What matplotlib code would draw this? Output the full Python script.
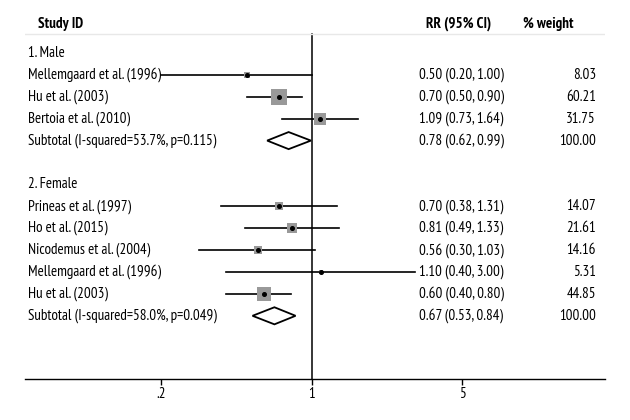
import matplotlib
matplotlib.use("Agg")
import matplotlib.pyplot as plt
from matplotlib.patches import Polygon
import numpy as np

plt.rcParams['font.family'] = ['PT Sans Narrow', 'Roboto Condensed', 'DejaVu Sans']

# data
groups = ["1. Male", "2. Female"]
male_studies = ["Mellemgaard et al. (1996)", "Hu et al. (2003)", "Bertoia et al. (2010)"]
male_rr = [0.50, 0.70, 1.09]
male_lo = [0.20, 0.50, 0.73]
male_hi = [1.00, 0.90, 1.64]
male_w = [8.03, 60.21, 31.75]
male_sub = [0.78, 0.62, 0.99]
male_sub_label = "Subtotal (I-squared=53.7%, p=0.115)"

female_studies = ["Prineas et al. (1997)", "Ho et al. (2015)", "Nicodemus et al. (2004)",
                  "Mellemgaard et al. (1996)", "Hu et al. (2003)"]
female_rr = [0.70, 0.81, 0.56, 1.10, 0.60]
female_lo = [0.38, 0.49, 0.30, 0.40, 0.40]
female_hi = [1.31, 1.33, 1.03, 3.00, 0.80]
female_w = [14.07, 21.61, 14.16, 5.31, 44.85]
female_sub = [0.67, 0.53, 0.84]
female_sub_label = "Subtotal (I-squared=58.0%, p=0.049)"

xticks = [0.2, 1, 5]
xticklabels = [".2", "1", "5"]

fig = plt.figure(figsize=(6.3, 4.2), dpi=100)
ax = fig.add_axes([25/630, 1 - 379/420, 580/630, 379/420])
ax.set_xscale('log')
ax.set_xlim(0.0465, 23)
ax.set_ylim(14.886, -2.42)

tr = ax.get_yaxis_transform()
fs = 10.8

def draw_group(row, name, studies, rr, lo, hi, w, sub, sub_label):
    ax.text(0.005, row, name, transform=tr, ha='left', va='center', fontsize=fs)
    row += 1
    for s, r, l, h, wt in zip(studies, rr, lo, hi, w):
        ax.plot([l, h], [row, row], color='black', lw=1.2, zorder=2)
        side = 2.15 * np.sqrt(wt) * 0.72
        ax.scatter([r], [row], marker='s', s=side**2, color='#999999', lw=0, zorder=3)
        ax.plot([r], [row], 'o', color='black', ms=2.6, zorder=4)
        ax.text(0.005, row, s, transform=tr, ha='left', va='center', fontsize=fs)
        ax.text(0.679, row, "%.2f (%.2f, %.2f)" % (r, l, h), transform=tr,
                ha='left', va='center', fontsize=fs)
        ax.text(0.9845, row, "%.2f" % wt, transform=tr, ha='right', va='center', fontsize=fs)
        row += 1
    r, l, h = sub
    dia = Polygon([[l, row], [r, row - 0.39], [h, row], [r, row + 0.39]], closed=True,
                  facecolor='white', edgecolor='black', lw=1.3, zorder=3)
    ax.add_patch(dia)
    ax.text(0.005, row, sub_label, transform=tr, ha='left', va='center', fontsize=fs)
    ax.text(0.679, row, "%.2f (%.2f, %.2f)" % (r, l, h), transform=tr,
            ha='left', va='center', fontsize=fs)
    ax.text(0.9845, row, "%.2f" % 100, transform=tr, ha='right', va='center', fontsize=fs)
    return row + 2

row = draw_group(0, groups[0], male_studies, male_rr, male_lo, male_hi, male_w,
                 male_sub, male_sub_label)
draw_group(row, groups[1], female_studies, female_rr, female_lo, female_hi, female_w,
           female_sub, female_sub_label)

# header
hy = -1.32
ax.text(0.0224, hy, "Study ID", transform=tr, ha='left', va='center', fontsize=fs, fontweight='bold')
ax.text(0.748, hy, "RR (95% CI)", transform=tr, ha='center', va='center', fontsize=fs, fontweight='bold')
ax.text(0.8586, hy, "% weight", transform=tr, ha='left', va='center', fontsize=fs, fontweight='bold')
ax.plot([0, 1], [-0.87, -0.87], transform=tr, color='#e8e8e8', lw=1)

# null line
ax.plot([1, 1], [-0.87, 14.886], color='black', lw=1.1, zorder=1)

for sp in ['top', 'left', 'right']:
    ax.spines[sp].set_visible(False)
ax.spines['bottom'].set_linewidth(1.0)
ax.set_yticks([])
ax.set_xticks(xticks)
ax.set_xticklabels(xticklabels, fontsize=fs)
ax.minorticks_off()
ax.tick_params(axis='x', direction='out', length=4, width=1, pad=2)

fig.savefig("out.png", dpi=100)
